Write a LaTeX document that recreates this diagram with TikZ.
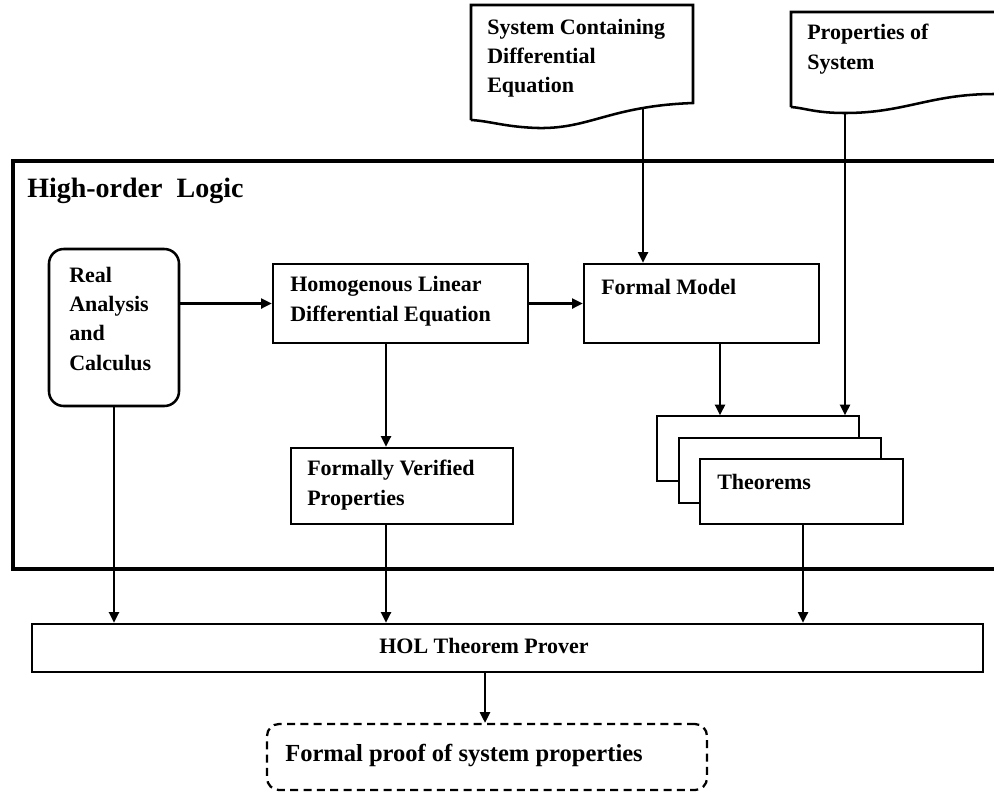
\documentclass[tikz,border=0pt]{standalone}
\usepackage{fontspec}
\setmainfont{Liberation Serif}
\usetikzlibrary{arrows.meta,fit}
\begin{document}
\begin{tikzpicture}[x=0.75pt,y=-0.75pt,
  box/.style={draw,line width=1.9pt,inner sep=0pt,rectangle},
  page/.style={draw,line width=1.1pt,fill=white,inner sep=0pt,rectangle},
  arr/.style={line width=1.7pt,-{Triangle[length=8pt,width=7.5pt]}},
  txt/.style={font=\fontsize{16.5}{22}\selectfont\bfseries,align=left,inner sep=0pt,anchor=base west}
]
\useasboundingbox (0,0) rectangle (994,794);
\clip (0,0) rectangle (994,794);

% High-order Logic frame
\node[draw,line width=3pt,inner sep=0pt,fit={(13,161) (1010,569)}] (hol-frame) {};
\node[font=\fontsize{21}{25}\selectfont\bfseries,inner sep=0pt,anchor=base west] (hol-title) at (27,197) {High-order\ \ Logic};

% Document 1
\draw[line width=1.9pt] (471,120) -- (471,5) -- (693,5) -- (693,103)
  .. controls (610,106) and (590,129) .. (538,128)
  .. controls (505,127) and (490,121) .. (471,120);
\coordinate (d1out) at (643,107);
\node[txt] (d1text) at (487,92.7) {System Containing\\Differential\\Equation};

% Document 2
\draw[line width=1.9pt] (791,107) -- (791,12) -- (1010,12) -- (1010,94) -- (994,94)
  .. controls (930,94) and (905,113) .. (845,113)
  .. controls (815,113) and (805,108) .. (791,107);
\coordinate (d2out) at (845,113);
\node[txt] (d2text) at (807,69.3) {Properties of\\System};

% Boxes
\node[box,rounded corners=11pt,fit={(49,249) (179,406)}] (ra) {};
\node[txt] (ratext) at (69,370) {Real\\Analysis\\and\\Calculus};

\node[box,fit={(273,264) (528,343)}] (hom) {};
\node[txt] (homtext) at (290,321.3) {Homogenous Linear\\Differential Equation};

\node[box,fit={(584,264) (819,343)}] (fm) {};
\node[txt] (fmtext) at (601,294) {Formal Model};

\node[box,fit={(291,448) (513,524)}] (fvp) {};
\node[txt] (fvptext) at (307,505.3) {Formally Verified\\Properties};

\node[page,fit={(657,416) (859,481)}] (th1) {};
\node[page,fit={(679,438) (881,503)}] (th2) {};
\node[page,line width=2pt,fit={(700,459) (903,524)}] (th3) {};
\node[txt] (thtext) at (717,489) {Theorems};

\node[box,fit={(32,624) (983,672)}] (hol) {};
\node[txt,anchor=base] (holtext) at (484,653) {HOL Theorem Prover};

\node[draw,line width=1.7pt,dash pattern=on 6pt off 4pt,rounded corners=9pt,inner sep=0pt,fit={(267,724) (707,790)}] (proof) {};
\node[txt,font=\fontsize{18.4}{22}\selectfont\bfseries] (prooftext) at (285,761) {Formal proof of system properties};

% Connectors
\draw[arr] (hom.west -| ra.east) -- (hom.west);
\draw[arr] (hom.east) -- (fm.west);
\draw[arr] (d1out) -- (d1out |- fm.north);
\draw[arr] (d2out) -- (d2out |- th1.north);
\draw[arr] (fm.south -| 720,0) -- (th1.north -| 720,0);
\draw[arr] (hom.south -| 386,0) -- (fvp.north -| 386,0);
\draw[arr] (ra.south) -- (ra.south |- hol.north);
\draw[arr] (fvp.south -| 386,0) -- (hol.north -| 386,0);
\draw[arr] (th3.south -| 803,0) -- (hol.north -| 803,0);
\draw[arr] (hol.south -| 485,0) -- (proof.north -| 485,0);
\end{tikzpicture}
\end{document}
